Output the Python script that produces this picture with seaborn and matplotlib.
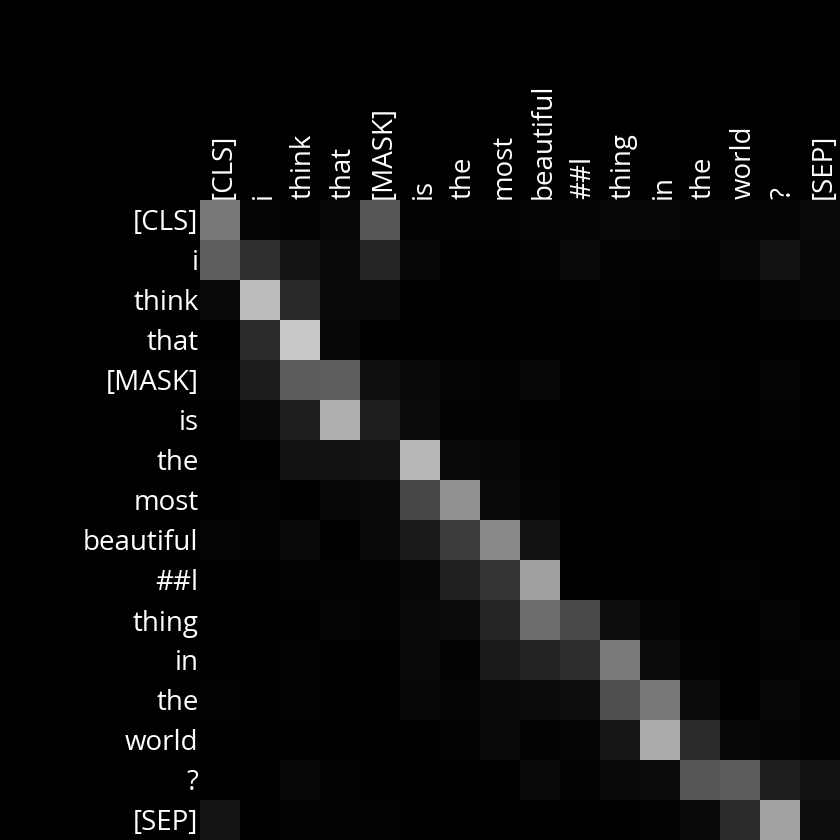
import numpy as np
import matplotlib
matplotlib.use('Agg')
import matplotlib.pyplot as plt
import seaborn as sns

tokens = ['[CLS]', 'i', 'think', 'that', '[MASK]', 'is', 'the', 'most',
          'beautiful', '##l', 'thing', 'in', 'the', 'world', '?', '[SEP]']

# attention weights, one list per query token
row_cls = [120, 4, 2, 6, 85, 2, 3, 3, 4, 4, 7, 6, 5, 4, 5, 8]
row_i = [94, 48, 20, 10, 37, 6, 1, 1, 3, 8, 2, 2, 3, 7, 18, 7]
row_think = [8, 187, 40, 9, 8, 1, 1, 1, 1, 1, 2, 1, 1, 1, 4, 7]
row_that = [1, 42, 200, 7, 1, 0, 0, 0, 1, 0, 1, 0, 0, 0, 1, 0]
row_mask = [3, 28, 91, 94, 16, 8, 4, 3, 7, 1, 1, 2, 2, 1, 5, 1]
row_is = [1, 8, 30, 174, 31, 11, 2, 3, 1, 0, 0, 0, 0, 0, 2, 1]
row_the = [1, 1, 17, 17, 20, 184, 8, 6, 3, 1, 0, 0, 0, 0, 1, 0]
row_most = [1, 3, 1, 7, 10, 71, 146, 9, 5, 1, 0, 0, 0, 0, 2, 1]
row_beautiful = [4, 3, 9, 1, 8, 25, 61, 136, 18, 1, 1, 1, 1, 1, 1, 1]
row_l = [1, 1, 3, 3, 2, 6, 33, 51, 160, 1, 1, 1, 1, 2, 1, 1]
row_thing = [1, 1, 1, 4, 2, 8, 12, 37, 108, 72, 14, 5, 1, 1, 4, 1]
row_in = [1, 1, 2, 1, 1, 9, 2, 26, 34, 46, 122, 11, 3, 1, 3, 5]
row_the2 = [2, 1, 2, 1, 1, 6, 5, 9, 11, 13, 80, 120, 11, 1, 6, 3]
row_world = [1, 1, 1, 1, 1, 1, 3, 10, 2, 5, 21, 170, 43, 7, 4, 2]
row_q = [1, 1, 7, 3, 1, 1, 1, 1, 8, 2, 10, 11, 85, 92, 30, 17]
row_sep = [19, 1, 2, 2, 3, 1, 1, 1, 1, 1, 1, 3, 10, 44, 163, 14]

attn = np.array([row_cls, row_i, row_think, row_that, row_mask, row_is,
                 row_the, row_most, row_beautiful, row_l, row_thing, row_in,
                 row_the2, row_world, row_q, row_sep]) / 255.0

plt.rcParams['font.family'] = ['Open Sans', 'DejaVu Sans']

fig = plt.figure(figsize=(8.4, 8.4), dpi=100, facecolor='black')
ax = fig.add_axes([200/840, 0, 640/840, 640/840])
sns.heatmap(attn, ax=ax, cmap='gray', vmin=0, vmax=1, cbar=False,
            xticklabels=tokens, yticklabels=tokens, square=False)
ax.xaxis.tick_top()
ax.tick_params(length=0, pad=1, colors='white', labelsize=20)
plt.setp(ax.get_xticklabels(), rotation=90, rotation_mode='anchor',
         ha='left', va='center_baseline')
plt.setp(ax.get_yticklabels(), rotation=0, va='center_baseline')

fig.savefig('out.png', dpi=100, facecolor='black')
